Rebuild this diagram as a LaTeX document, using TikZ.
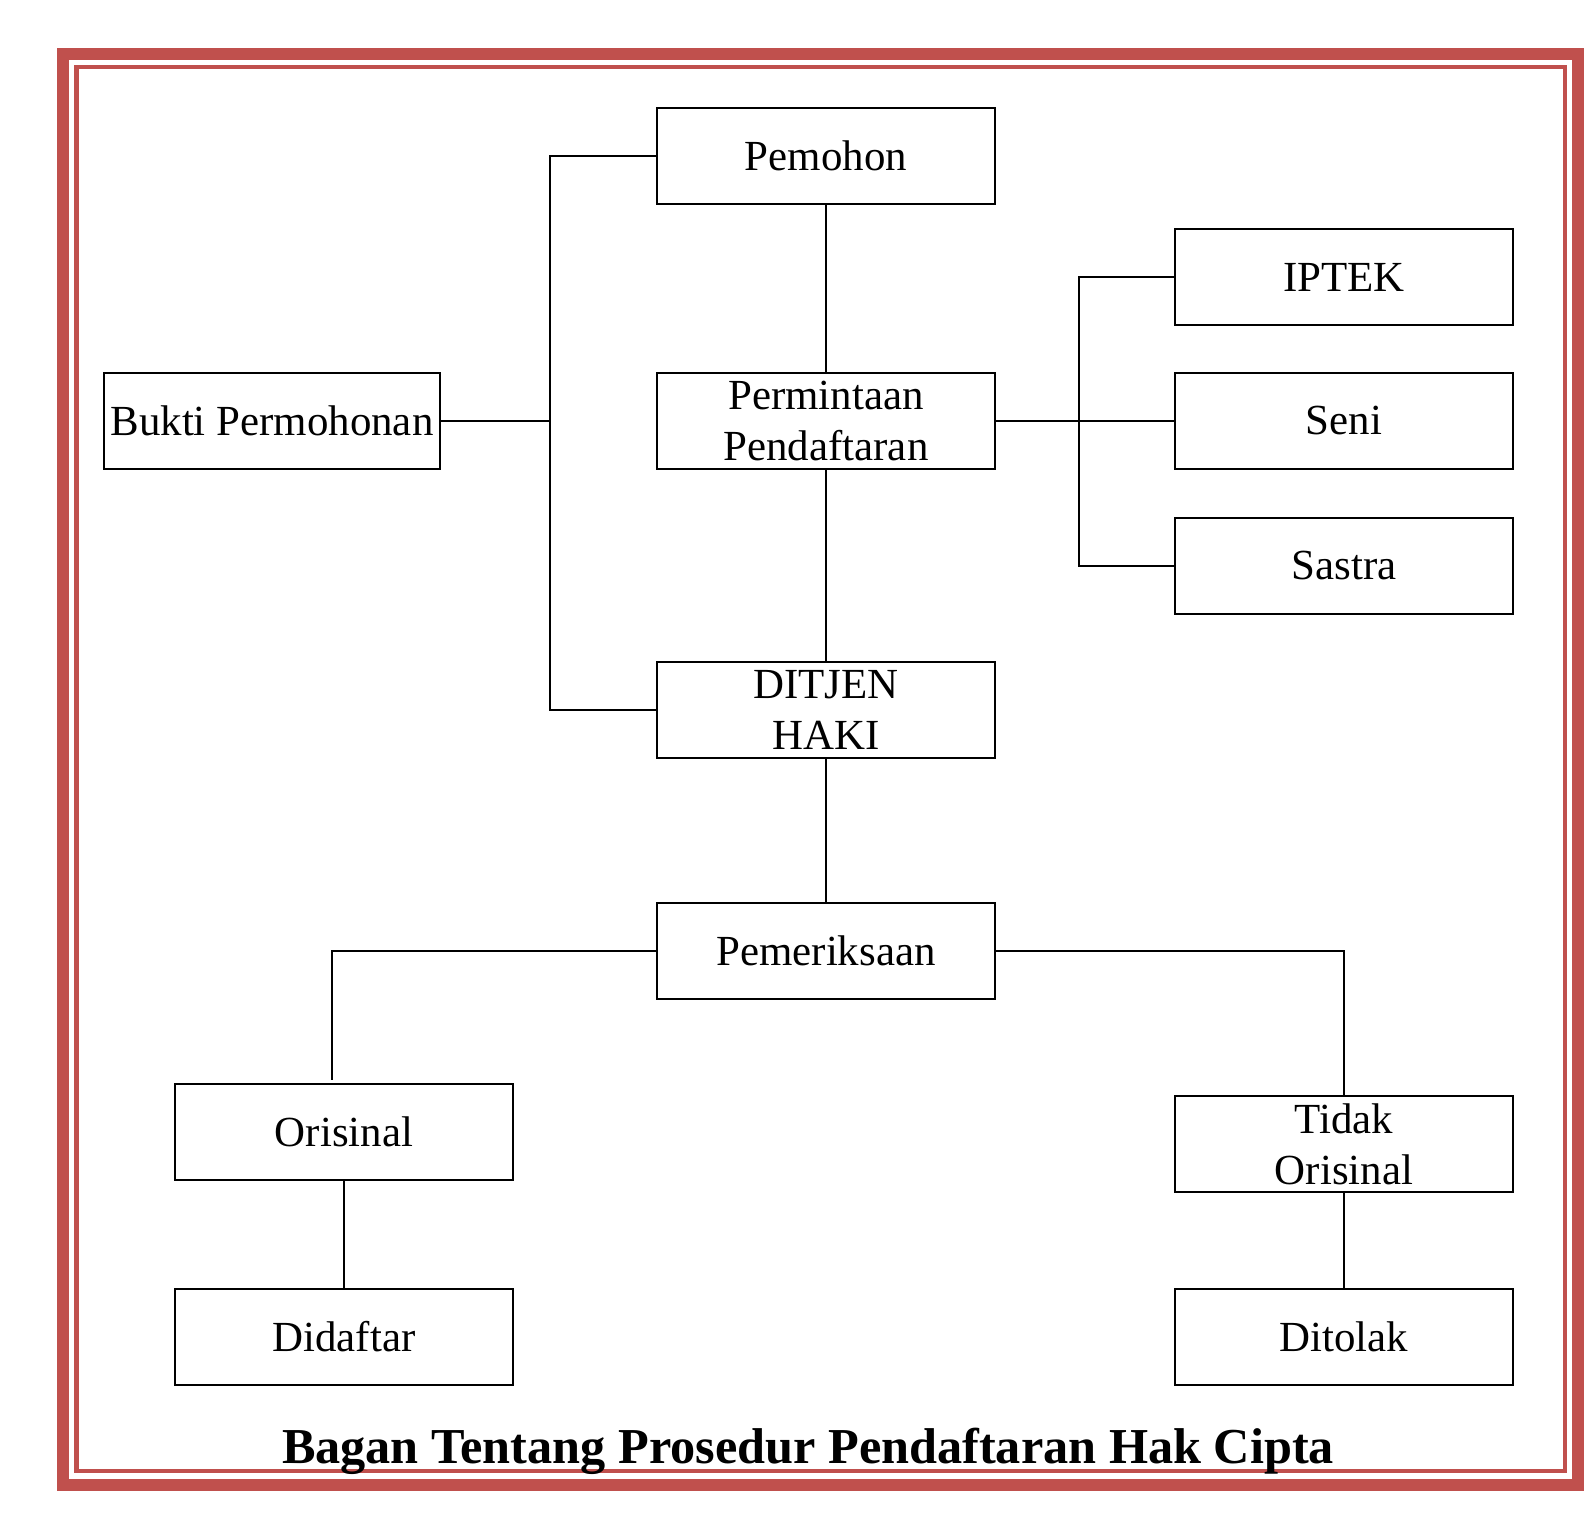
\documentclass[tikz,border=0pt]{standalone}
\usepackage{fontspec}
\setmainfont{Liberation Serif}
\usepackage{tikz}
\usetikzlibrary{positioning}

\definecolor{frameRed}{RGB}{192,80,77}

\begin{document}
\begin{tikzpicture}[
    x=0.01cm, y=-0.01cm,
    % Box style
    stepbox/.style={
        rectangle,
        draw=black,
        line width=0.5pt,
        minimum width=3.38cm,
        minimum height=0.96cm,
        inner sep=0pt,
        align=center,
        font=\fontsize{12.2}{14.5}\selectfont
    },
    % Connector style
    conn/.style={
        line width=0.4pt,
        black
    },
    % Title style
    ttl/.style={
        font=\fontsize{14.3}{17}\selectfont\bfseries,
        anchor=base,
        inner sep=0pt
    }
]

\useasboundingbox (0,0) rectangle (1593,1524);

% === Page frame ===
\draw[frameRed, line width=3.41pt] (63,54) rectangle (1578,1485);
\draw[frameRed, line width=1.28pt] (76.5,67) rectangle (1565,1471);

% === Main column ===
\node[stepbox] (pemohon) at (826,156) {Pemohon};
\node[stepbox] (permintaan) at (826,421) {Permintaan\\Pendaftaran};
\node[stepbox] (ditjen) at (826,710) {DITJEN\\HAKI};
\node[stepbox] (periksa) at (826,951) {Pemeriksaan};

% === Left side ===
\node[stepbox, minimum width=3.36cm] (bukti) at (272,421) {Bukti Permohonan};

% === Kinds of works (right) ===
\node[stepbox] (iptek) at (1344,277) {IPTEK};
\node[stepbox] (seni) at (1344,421) {Seni};
\node[stepbox] (sastra) at (1344,566) {Sastra};

% === Results ===
\node[stepbox] (orisinal) at (344,1132) {Orisinal};
\node[stepbox] (didaftar) at (344,1337) {Didaftar};
\node[stepbox] (tidak) at (1344,1144) {Tidak\\Orisinal};
\node[stepbox] (ditolak) at (1344,1337) {Ditolak};

% Junction points
\coordinate (lbus) at (550,421);
\coordinate (rbus) at (1079,421);
\coordinate (oriend) at (332,1080);

% === Connectors in main column ===
\draw[conn] (pemohon) -- (permintaan);
\draw[conn] (permintaan) -- (ditjen);
\draw[conn] (ditjen) -- (periksa);

% Left bracket: Pemohon - Bukti - DITJEN
\draw[conn] (pemohon.west) -| (lbus) |- (ditjen.west);
\draw[conn] (bukti.east) -- (lbus);

% Right bracket: Permintaan - IPTEK/Seni/Sastra
\draw[conn] (permintaan.east) -- (seni.west);
\draw[conn] (iptek.west) -| (rbus) |- (sastra.west);

% Examination branches
\draw[conn] (periksa.west) -| (oriend);
\draw[conn] (periksa.east) -| (tidak.north);
\draw[conn] (orisinal) -- (didaftar);
\draw[conn] (tidak) -- (ditolak);

% === Title ===
\node[ttl] (judul) at (808,1463) {Bagan Tentang Prosedur Pendaftaran Hak Cipta};

\end{tikzpicture}
\end{document}
